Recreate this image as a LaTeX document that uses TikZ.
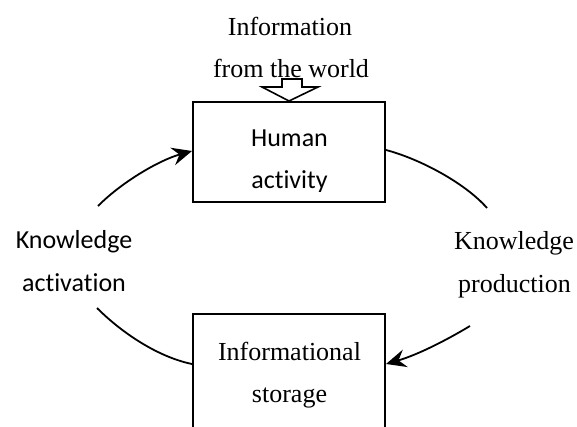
\documentclass[tikz,border=0pt]{standalone}
\usepackage{fontspec}
\setmainfont{Liberation Serif}
\newfontfamily\calib[Ligatures=NoCommon]{Carlito}
\usetikzlibrary{arrows.meta,calc}
\begin{document}
\begin{tikzpicture}[x=0.5pt,y=-0.5pt,
  box/.style={draw,line width=1pt,minimum width=96pt,inner sep=0pt},
  serif/.style={font=\fontsize{13}{15}\selectfont,anchor=base,inner sep=0pt},
  sans/.style={font=\calib\fontsize{13}{15}\selectfont,anchor=base,inner sep=0pt},
  flow/.style={line width=0.9pt,-{Stealth[length=10pt,width=9pt,inset=3.5pt]}},
  plain/.style={line width=0.9pt}]
\clip (0,0) rectangle (577,427);
% boxes
\node[box,minimum height=50pt] (top) at (289,152) {};
\node[box,minimum height=70pt] (bot) at (289,384) {};
% texts
\node[serif] (info1) at (290,36) {Information};
\node[serif] (info2) at (291,78) {from the world};
\begin{scope}
\clip (194,103) rectangle (384,192);
\node[sans] (hum1) at (289.5,147) {Human};
\node[sans] (hum2) at (289.5,189) {activity};
\end{scope}
\node[serif] (st1) at (289.5,360) {Informational};
\node[serif] (st2) at (289.5,402) {storage};
\node[sans] (ka1) at (74,248) {Knowledge};
\node[sans] (ka2) at (74,291) {activation};
\node[serif] (kp1) at (514,249) {Knowledge};
\node[serif] (kp2) at (514.5,292) {production};
% hollow arrow
\draw[line width=0.8pt,fill=white,line join=miter]
  (282,79) -- (302,79) -- (302,87) -- (318,87) -- (top.north) -- (262,87) -- (282,87) -- cycle;
% connectors
\coordinate (a1) at (98,206);
\coordinate (a2) at (97,308);
\coordinate (b1) at (487,208);
\coordinate (b2) at (470,326);
\draw[flow] (a1) .. controls (123,181) and (160,160) .. ([yshift=0.5pt]top.west);
\draw[plain] (a2) .. controls (122,333) and (158,357) .. ([yshift=-25.5pt]bot.north west);
\draw[plain] ([yshift=1pt]top.east) .. controls (420,159) and (465,183) .. (b1);
\draw[flow] (b2) .. controls (445,341) and (417,355) .. ([yshift=-25.5pt]bot.north east);
\end{tikzpicture}
\end{document}
